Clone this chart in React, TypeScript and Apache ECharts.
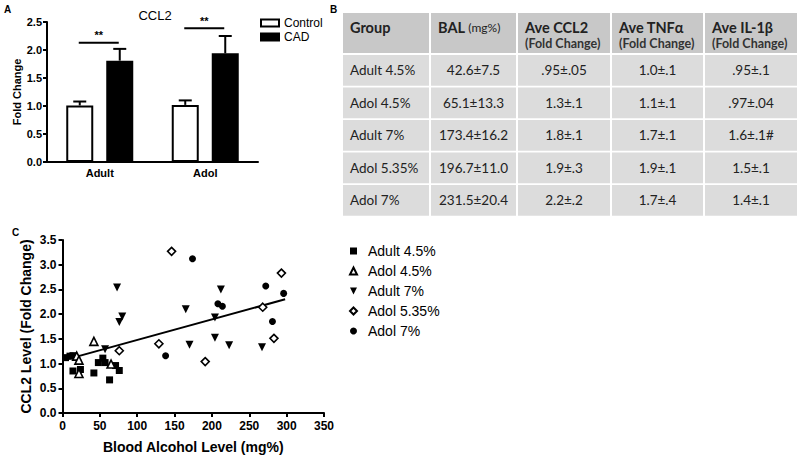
import React, { useEffect, useRef } from "react";
import * as echarts from "echarts";

// ---------- Panel A data ----------
const barCategories = ["Adult", "Adol"];
const barSeriesNames = ["Control", "CAD"];
const controlMeans = [1.01, 1.02];
const controlErr = [0.07, 0.08];
const cadMeans = [1.81, 1.94];
const cadErr = [0.21, 0.31];
const sigLevels = [2.13, 2.39];
const sigLabels = ["**", "**"];
const barYTicks = [0, 2.5, 0.5]; // min, max, interval

// ---------- Panel B data ----------
const tableHeaders = ["Group", "BAL", "Ave CCL2", "Ave TNFα", "Ave IL-1β"];
const tableSubHeaders = ["", "(mg%)", "(Fold Change)", "(Fold Change)", "(Fold Change)"];
const tableGroups = ["Adult 4.5%", "Adol 4.5%", "Adult 7%", "Adol 5.35%", "Adol 7%"];
const tableBAL = ["42.6±7.5", "65.1±13.3", "173.4±16.2", "196.7±11.0", "231.5±20.4"];
const tableCCL2 = [".95±.05", "1.3±.1", "1.8±.1", "1.9±.3", "2.2±.2"];
const tableTNF = ["1.0±.1", "1.1±.1", "1.7±.1", "1.9±.1", "1.7±.4"];
const tableIL1 = [".95±.1", ".97±.04", "1.6±.1#", "1.5±.1", "1.4±.1"];

// ---------- Panel C data ----------
const adult45X = [4, 10, 14, 14, 24, 42, 48, 54, 57, 63, 71, 76];
const adult45Y = [1.12, 1.15, 1.16, 0.85, 0.88, 0.81, 1.02, 1.11, 1.02, 0.67, 0.96, 0.86];
const adol45X = [19, 22, 22, 42, 65];
const adol45Y = [1.15, 1.07, 0.8, 1.45, 0.99];
const adult7X = [57, 73, 76, 80, 165, 170, 204, 204, 212, 223, 267];
const adult7Y = [1.29, 2.54, 1.84, 1.95, 2.1, 1.38, 1.52, 1.93, 2.5, 1.37, 1.33];
const adol535X = [76, 129, 146, 191, 268, 283, 293];
const adol535Y = [1.26, 1.4, 3.27, 1.04, 2.14, 1.51, 2.83];
const adol7X = [138, 174, 208, 214, 272, 281, 296];
const adol7Y = [1.16, 3.12, 2.21, 2.16, 2.57, 1.85, 2.42];
const fitX = [2, 298];
const fitY = [1.07, 2.3];
const scatterNames = ["Adult 4.5%", "Adol 4.5%", "Adult 7%", "Adol 5.35%", "Adol 7%"];
const scatterXTicks = [0, 350, 50];
const scatterYTicks = [0, 3.5, 0.5];

// ---------- style / layout constants ----------
const FONT = "Liberation Sans, Arial, sans-serif";
const TFONT = "Lato, Carlito, sans-serif";
const BAR_W = 27;
const BAR_GAP = 13;
const BAR_OFFSET = (BAR_W + BAR_GAP) / 2;
const TABLE_LEFT = [343, 431, 518, 612, 705];
const TABLE_W = [86, 85, 92, 91, 92];
const TABLE_TOP = 13;
const HEADER_H = 40;
const ROW_TOP = 55;
const ROW_STRIDE = 32.5;
const ROW_H = 30.8;

const zip = (xs: number[], ys: number[]) => xs.map((x, i) => [x, ys[i]]);

function buildTable(): any[] {
  const els: any[] = [];
  const cols = [tableGroups, tableBAL, tableCCL2, tableTNF, tableIL1];
  for (let c = 0; c < tableHeaders.length; c++) {
    els.push({
      type: "rect",
      shape: { x: TABLE_LEFT[c], y: TABLE_TOP, width: TABLE_W[c], height: HEADER_H },
      style: { fill: "#c8c8c8" },
    });
    let text: string;
    if (c === 0) text = `{b|${tableHeaders[c]}}`;
    else if (c === 1) text = `{b|${tableHeaders[c]}} {s|${tableSubHeaders[c]}}`;
    else text = `{b|${tableHeaders[c]}}\n{s2|${tableSubHeaders[c]}}`;
    els.push({
      type: "text",
      x: TABLE_LEFT[c] + 7,
      y: TABLE_TOP + 6,
      style: {
        text,
        textAlign: "left",
        textVerticalAlign: "top",
        rich: {
          b: { font: `bold 14.5px ${TFONT}`, fill: "#222", lineHeight: 17 },
          s: { font: `12px ${TFONT}`, fill: "#222", lineHeight: 17 },
          s2: { font: `bold 12.5px ${TFONT}`, fill: "#333", lineHeight: 15 },
        },
      },
    });
    for (let r = 0; r < tableGroups.length; r++) {
      const y = ROW_TOP + r * ROW_STRIDE;
      els.push({
        type: "rect",
        shape: { x: TABLE_LEFT[c], y, width: TABLE_W[c], height: ROW_H },
        style: { fill: "#dcdcdc" },
      });
      els.push({
        type: "text",
        x: c === 0 ? TABLE_LEFT[c] + 7 : TABLE_LEFT[c] + TABLE_W[c] / 2,
        y: y + ROW_H / 2,
        style: {
          text: cols[c][r],
          textAlign: c === 0 ? "left" : "center",
          textVerticalAlign: "middle",
          font: `13.5px ${TFONT}`,
          fill: "#222",
        },
      });
    }
  }
  return els;
}

function errRender(offset: number) {
  return (_p: any, api: any) => {
    const cat = api.value(0);
    const m = api.value(1);
    const e = api.value(2);
    const top = api.coord([cat, m]);
    const end = api.coord([cat, m + e]);
    const x = top[0] + offset;
    return {
      type: "group",
      children: [
        { type: "line", shape: { x1: x, y1: top[1], x2: x, y2: end[1] }, style: { stroke: "#000", lineWidth: 2 } },
        { type: "line", shape: { x1: x - 6.5, y1: end[1], x2: x + 6.5, y2: end[1] }, style: { stroke: "#000", lineWidth: 2 } },
      ],
    };
  };
}

const axisLabelStyle = (size: number) => ({
  color: "#000",
  fontWeight: "bold" as const,
  fontSize: size,
  fontFamily: FONT,
});

const option: any = {
  animation: false,
  backgroundColor: "#fff",
  grid: [
    { left: 47, right: 542, top: 22, bottom: 296, containLabel: false },
    { left: 62.5, right: 476, top: 240, bottom: 45, containLabel: false },
  ],
  legend: [
    {
      data: barSeriesNames,
      orient: "vertical",
      left: 255,
      top: 12,
      icon: "rect",
      itemWidth: 18,
      itemHeight: 7,
      itemGap: 2,
      textStyle: { fontSize: 12, fontFamily: FONT, color: "#000" },
    },
    {
      data: scatterNames,
      orient: "vertical",
      left: 344,
      top: 239,
      itemWidth: 7,
      itemHeight: 7,
      itemGap: 6,
      textStyle: { fontSize: 14, fontFamily: FONT, color: "#000", padding: [0, 0, 0, 6] },
    },
  ],
  xAxis: [
    {
      type: "category",
      gridIndex: 0,
      data: barCategories,
      axisLine: { lineStyle: { color: "#000", width: 2 } },
      axisTick: { alignWithLabel: true, length: 3, lineStyle: { color: "#000", width: 2 } },
      axisLabel: { ...axisLabelStyle(11), margin: 5 },
    },
    {
      type: "value",
      gridIndex: 1,
      min: scatterXTicks[0],
      max: scatterXTicks[1],
      interval: scatterXTicks[2],
      name: "Blood Alcohol Level (mg%)",
      nameLocation: "middle",
      nameGap: 27,
      nameTextStyle: { fontSize: 14, fontWeight: "bold", fontFamily: FONT, color: "#000" },
      splitLine: { show: false },
      axisLine: { onZero: false, lineStyle: { color: "#000", width: 2 } },
      axisTick: { length: 4, lineStyle: { color: "#000", width: 2 } },
      axisLabel: { ...axisLabelStyle(12), margin: 7 },
    },
  ],
  yAxis: [
    {
      type: "value",
      gridIndex: 0,
      min: barYTicks[0],
      max: barYTicks[1],
      interval: barYTicks[2],
      name: "Fold Change",
      nameLocation: "middle",
      nameGap: 24,
      nameTextStyle: { fontSize: 11, fontWeight: "bold", fontFamily: FONT, color: "#000" },
      splitLine: { show: false },
      axisLine: { show: true, lineStyle: { color: "#000", width: 2 } },
      axisTick: { show: true, length: 4, lineStyle: { color: "#000", width: 2 } },
      axisLabel: { ...axisLabelStyle(11), margin: 5, formatter: (v: number) => v.toFixed(1) },
    },
    {
      type: "value",
      gridIndex: 1,
      min: scatterYTicks[0],
      max: scatterYTicks[1],
      interval: scatterYTicks[2],
      name: "CCL2 Level (Fold Change)",
      nameLocation: "middle",
      nameGap: 30,
      nameTextStyle: { fontSize: 14, fontWeight: "bold", fontFamily: FONT, color: "#000" },
      splitLine: { show: false },
      axisLine: { show: true, onZero: false, lineStyle: { color: "#000", width: 2 } },
      axisTick: { show: true, length: 4, lineStyle: { color: "#000", width: 2 } },
      axisLabel: { ...axisLabelStyle(12), margin: 6, formatter: (v: number) => v.toFixed(1) },
    },
  ],
  series: [
    {
      type: "bar",
      name: barSeriesNames[0],
      xAxisIndex: 0,
      yAxisIndex: 0,
      data: controlMeans,
      barWidth: BAR_W,
      barGap: `${(BAR_GAP / BAR_W) * 100}%`,
      itemStyle: { color: "#fff", borderColor: "#000", borderWidth: 2 },
    },
    {
      type: "bar",
      name: barSeriesNames[1],
      xAxisIndex: 0,
      yAxisIndex: 0,
      data: cadMeans,
      barWidth: BAR_W,
      barGap: `${(BAR_GAP / BAR_W) * 100}%`,
      itemStyle: { color: "#000", borderColor: "#000", borderWidth: 2 },
    },
    {
      type: "custom",
      xAxisIndex: 0,
      yAxisIndex: 0,
      data: controlMeans.map((m, i) => [i, m, controlErr[i]]),
      renderItem: errRender(-BAR_OFFSET),
      z: 3,
    },
    {
      type: "custom",
      xAxisIndex: 0,
      yAxisIndex: 0,
      data: cadMeans.map((m, i) => [i, m, cadErr[i]]),
      renderItem: errRender(BAR_OFFSET),
      z: 3,
    },
    {
      type: "custom",
      xAxisIndex: 0,
      yAxisIndex: 0,
      data: sigLevels.map((v, i) => [i, v]),
      renderItem: (p: any, api: any) => {
        const c = api.coord([api.value(0), api.value(1)]);
        return {
          type: "group",
          children: [
            {
              type: "line",
              shape: { x1: c[0] - 21, y1: c[1], x2: c[0] + 19, y2: c[1] },
              style: { stroke: "#000", lineWidth: 2 },
            },
            {
              type: "text",
              x: c[0] - 1,
              y: c[1] - 2,
              style: {
                text: sigLabels[p.dataIndex],
                textAlign: "center",
                textVerticalAlign: "bottom",
                font: `bold 11px ${FONT}`,
                fill: "#000",
              },
            },
          ],
        };
      },
    },
    {
      type: "scatter",
      name: scatterNames[0],
      xAxisIndex: 1,
      yAxisIndex: 1,
      data: zip(adult45X, adult45Y),
      symbol: "rect",
      symbolSize: 7,
      itemStyle: { color: "#000", opacity: 1 },
    },
    {
      type: "scatter",
      name: scatterNames[1],
      xAxisIndex: 1,
      yAxisIndex: 1,
      data: zip(adol45X, adol45Y),
      symbol: "triangle",
      symbolSize: 8,
      itemStyle: { color: "#fff", borderColor: "#000", borderWidth: 1.6, opacity: 1 },
    },
    {
      type: "scatter",
      name: scatterNames[2],
      xAxisIndex: 1,
      yAxisIndex: 1,
      data: zip(adult7X, adult7Y),
      symbol: "path://M0,0L10,0L5,10Z",
      symbolSize: 8,
      itemStyle: { color: "#000", opacity: 1 },
    },
    {
      type: "scatter",
      name: scatterNames[3],
      xAxisIndex: 1,
      yAxisIndex: 1,
      data: zip(adol535X, adol535Y),
      symbol: "diamond",
      symbolSize: 8,
      itemStyle: { color: "#fff", borderColor: "#000", borderWidth: 1.6, opacity: 1 },
    },
    {
      type: "scatter",
      name: scatterNames[4],
      xAxisIndex: 1,
      yAxisIndex: 1,
      data: zip(adol7X, adol7Y),
      symbol: "circle",
      symbolSize: 7,
      itemStyle: { color: "#000", opacity: 1 },
    },
    {
      type: "line",
      name: "fit",
      xAxisIndex: 1,
      yAxisIndex: 1,
      data: zip(fitX, fitY),
      showSymbol: false,
      symbol: "none",
      lineStyle: { color: "#000", width: 2 },
      z: 1,
    },
  ],
  graphic: [
    { type: "text", x: 4, y: 4, style: { text: "A", font: `bold 10px ${FONT}`, fill: "#000" } },
    { type: "text", x: 330, y: 4, style: { text: "B", font: `bold 10px ${FONT}`, fill: "#000" } },
    { type: "text", x: 12, y: 227, style: { text: "C", font: `bold 10px ${FONT}`, fill: "#000" } },
    {
      type: "text",
      x: 155,
      y: 15,
      style: { text: "CCL2", font: `13px ${FONT}`, fill: "#000", textAlign: "center", textVerticalAlign: "middle" },
    },
    ...buildTable(),
  ],
};

export default function App() {
  const ref = useRef<HTMLDivElement>(null);
  useEffect(() => {
    document.body.style.margin = "0";
    const chart = echarts.init(ref.current!, null, { renderer: "svg" });
    chart.setOption(option);
    return () => chart.dispose();
  }, []);
  return <div ref={ref} style={{ width: 800, height: 458, background: "#fff" }} />;
}
